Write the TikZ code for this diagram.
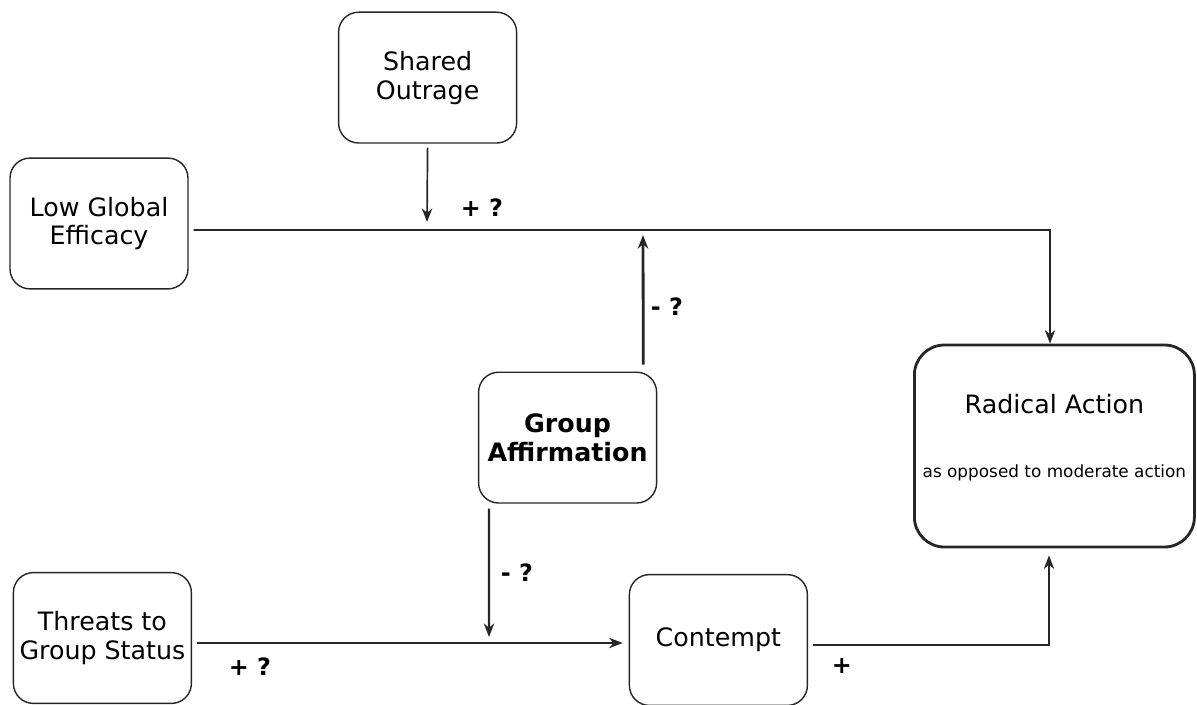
\documentclass[tikz,border=0pt]{standalone}
\usepackage{fontspec}
\setmainfont{DejaVu Sans}
\usetikzlibrary{arrows.meta}
\usetikzlibrary{calc}
\tikzset{
	box/.style={draw=black!85,line width=1pt,rounded corners=0.5cm,minimum width=4.45cm,minimum height=3.27cm,inner sep=0pt,align=center,font=\fontsize{18}{20.6}\selectfont},
	link/.style={draw=black!85,line width=1.2pt,-{Stealth[length=0.34cm,width=0.26cm]}},
	sign/.style={font=\fontsize{17}{20}\selectfont\bfseries}
}

\begin{document}
\begin{tikzpicture}
	\useasboundingbox (0,0) rectangle (29.925,-17.6);

	\node[box] (lge) at (2.475,-5.5875) {Low Global\\Efficacy};
	\node[box] (so) at (10.69,-1.94) {Shared\\Outrage};
	\node[box,font=\fontsize{18}{20.6}\selectfont\bfseries] (ga) at (14.19,-10.94) {Group\\Affirmation};
	\node[box,line width=2pt,rounded corners=0.75cm,minimum width=7cm,minimum height=5.05cm] (ra) at (26.36,-11.15) {};
	\node[font=\fontsize{18}{20.6}\selectfont] (ratitle) at ([yshift=1.05cm]ra.center) {Radical Action};
	\node[font=\fontsize{12}{14}\selectfont] (rasub) at ([yshift=-0.68cm]ra.center) {as opposed to moderate action};
	\node[box] (tgs) at (2.56,-15.95) {Threats to\\Group Status};
	\node[box] (con) at (17.96,-16.0) {Contempt};

	\coordinate (topbend) at (26.25,-5.75);
	\coordinate (botbend) at (26.225,-16.125);
	\coordinate (soend) at (10.675,-5.55);
	\coordinate (gaup) at (16.075,-5.875);
	\coordinate (gadown) at (12.225,-15.925);

	\draw[link,line width=1.4pt] ([xshift=0.125cm,yshift=-0.1625cm]lge.east) -- (topbend) -- (topbend |- ra.north);
	\draw[link] ([yshift=-0.1cm]so.south) -- (soend);
	\draw[link,line width=2pt] ([xshift=-0.35cm,yshift=0.175cm]ga.north east) -- (gaup);
	\draw[link,line width=1.6pt] ([xshift=0.275cm,yshift=-0.125cm]ga.south west) -- (gadown);
	\draw[link] ([xshift=0.125cm,yshift=-0.125cm]tgs.east) -- ([xshift=-0.15cm,yshift=-0.075cm]con.west);
	\draw[link] ([xshift=0.125cm,yshift=-0.125cm]con.east) -- (botbend) -- ($(botbend |- ra.south)+(0,-0.175)$);

	\node[sign] (s1) at (12.05,-5.2) {+ ?};
	\node[sign] (s2) at (16.675,-7.675) {- ?};
	\node[sign] (s3) at (12.925,-14.325) {- ?};
	\node[sign] (s4) at (6.25,-16.675) {+ ?};
	\node[sign] (s5) at (21.05,-16.65) {+};
\end{tikzpicture}
\end{document}
